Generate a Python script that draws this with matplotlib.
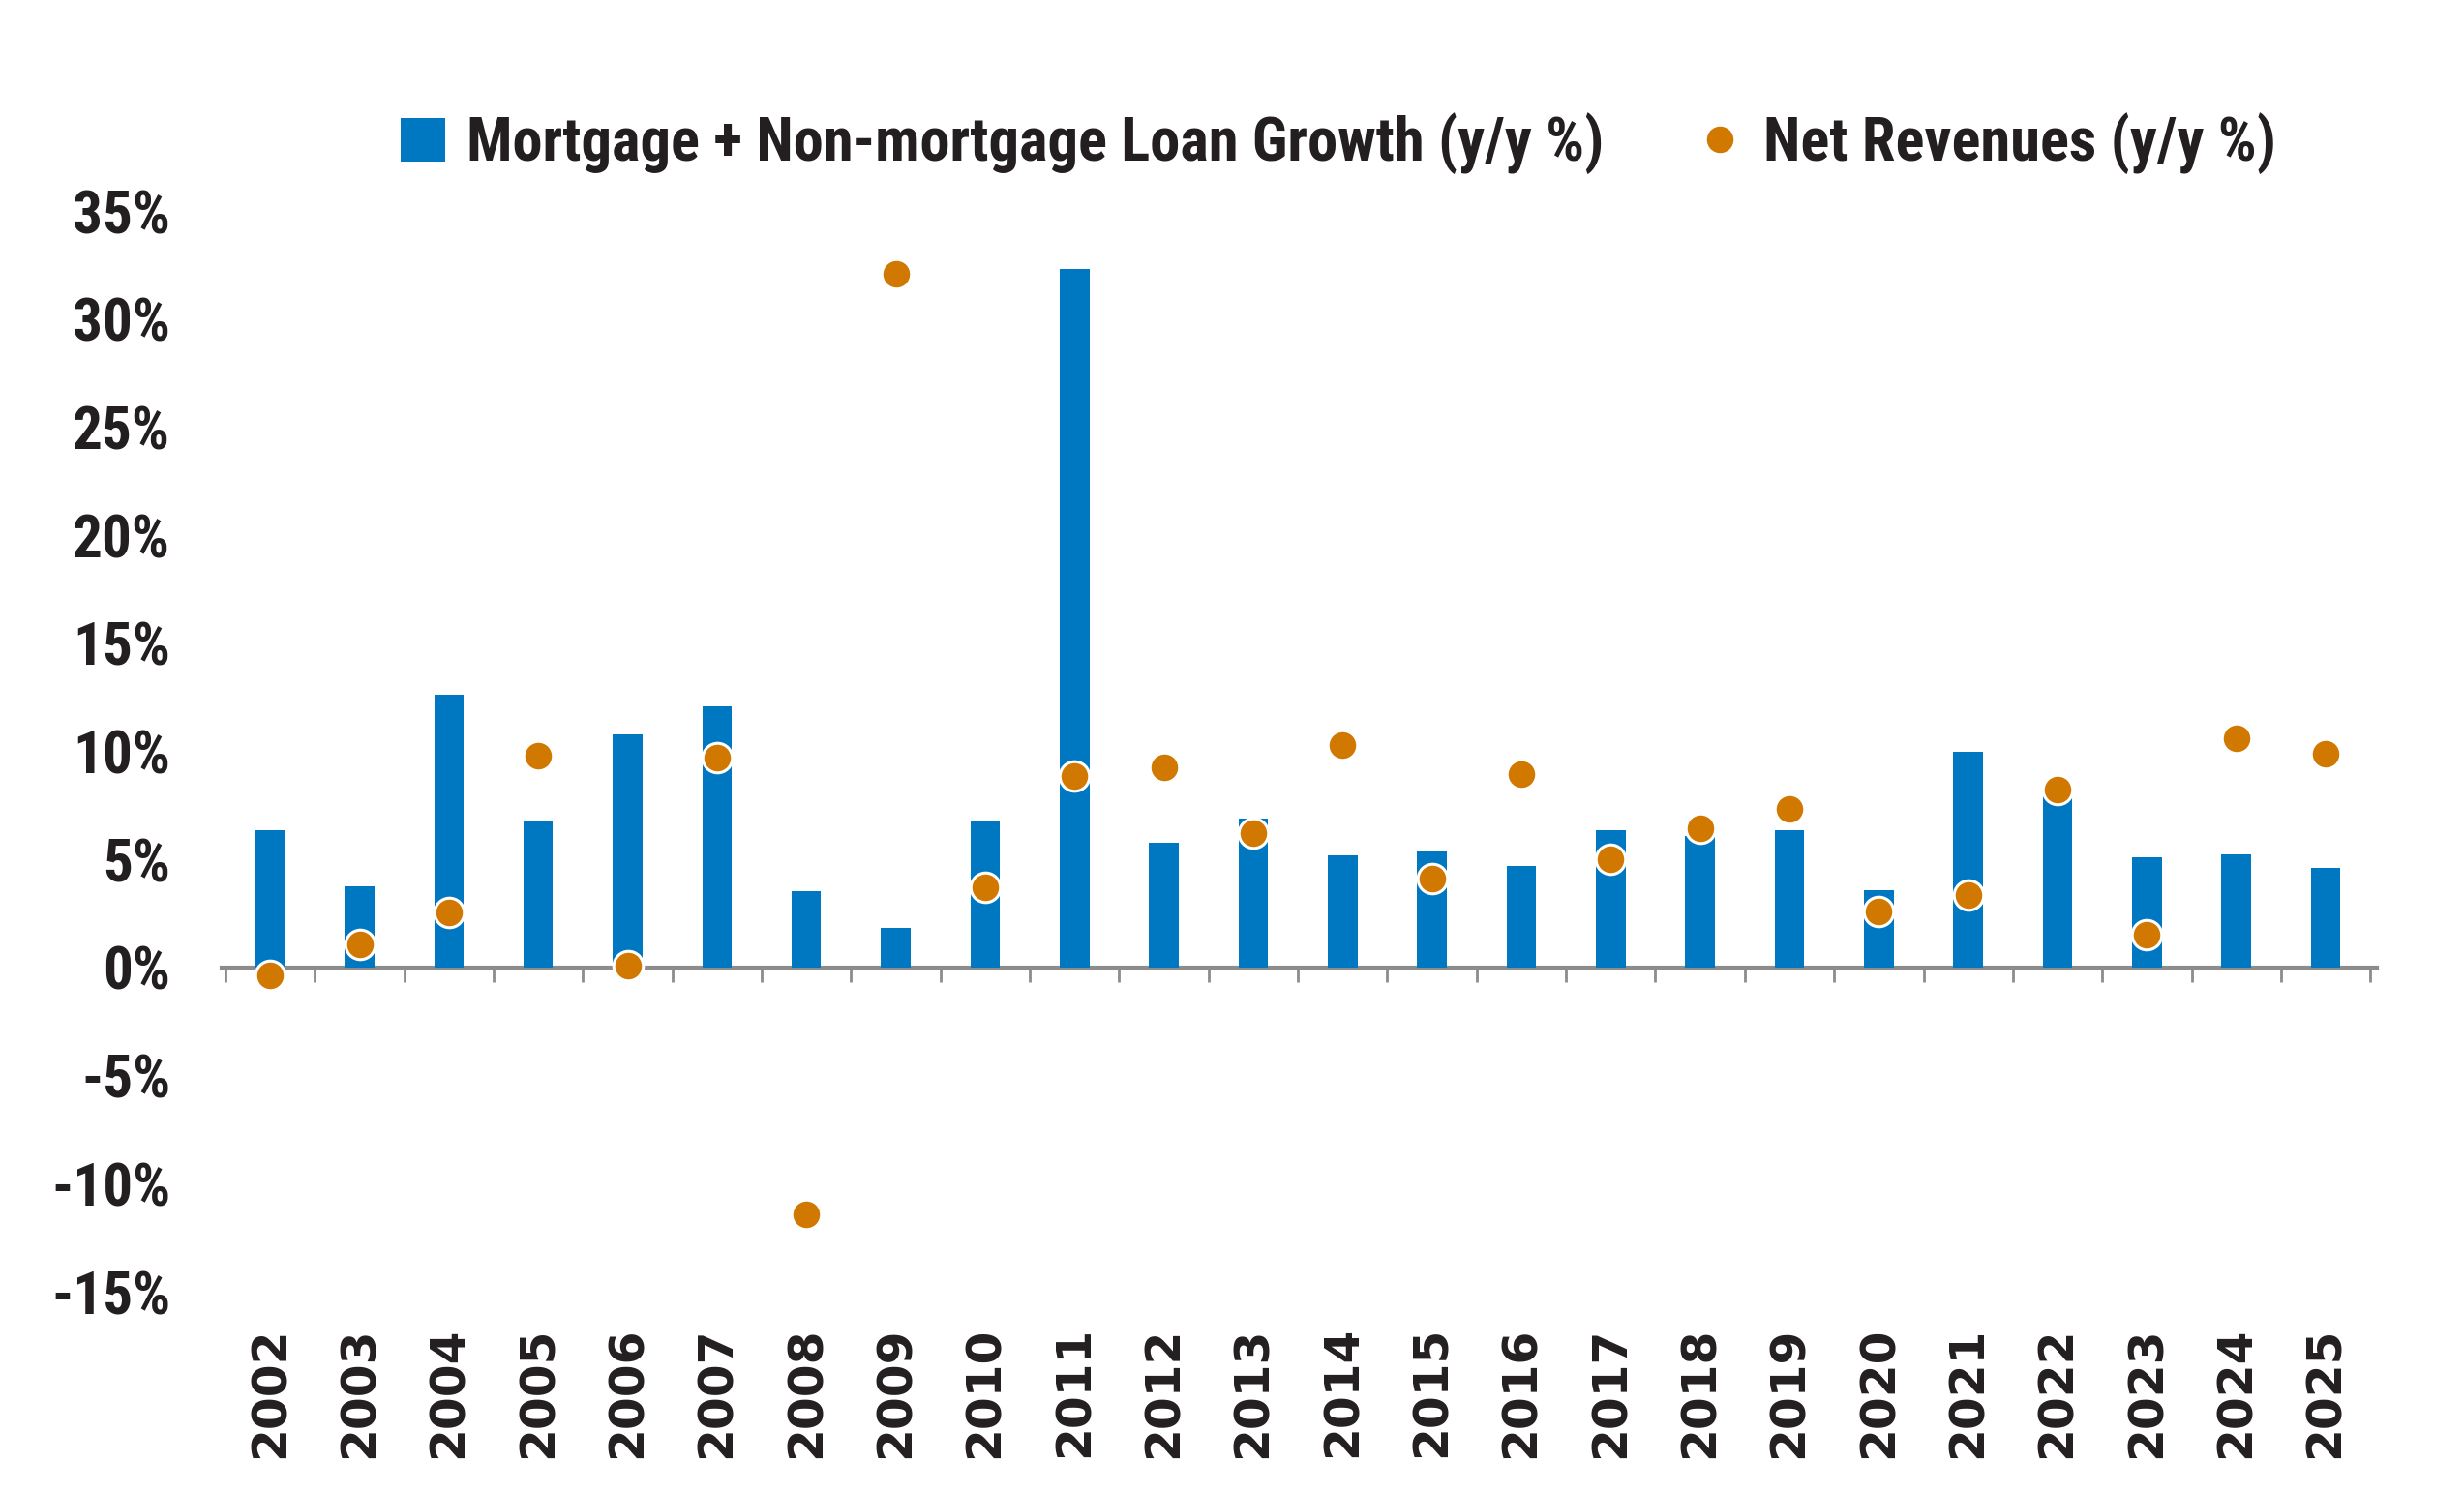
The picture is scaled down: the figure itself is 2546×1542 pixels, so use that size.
import matplotlib
matplotlib.use("Agg")
import matplotlib.pyplot as plt
from matplotlib import font_manager
from matplotlib.lines import Line2D
from matplotlib.patches import Patch

years = ["2002", "2003", "2004", "2005", "2006", "2007", "2008", "2009", "2010", "2011",
         "2012", "2013", "2014", "2015", "2016", "2017", "2018", "2019", "2020", "2021",
         "2022", "2023", "2024", "2025"]
loan_growth = [6.35, 3.75, 12.6, 6.75, 10.8, 12.1, 3.55, 1.85, 6.75, 32.3,
               5.75, 6.9, 5.2, 5.35, 4.7, 6.35, 6.1, 6.35, 3.6, 10.0,
               7.9, 5.1, 5.25, 4.6]
net_revenues = [-0.35, 1.05, 2.55, 9.8, 0.1, 9.7, -11.4, 32.1, 3.7, 8.85,
                9.25, 6.2, 10.3, 4.1, 8.95, 5.0, 6.45, 7.35, 2.6, 3.35,
                8.25, 1.5, 10.6, 9.9]
y_ticks = [-15, -10, -5, 0, 5, 10, 15, 20, 25, 30, 35]
loan_label = "Mortgage + Non-mortgage Loan Growth (y/y %)"
rev_label = "Net Revenues (y/y %)"

BLUE = "#0078C1"
ORANGE = "#D17800"
TXT = "#231F20"
GRAY = "#8C8C8C"

available = {f.name for f in font_manager.fontManager.ttflist}
narrow = None
for cand in ["Liberation Sans Narrow", "DejaVu Sans Condensed", "Roboto Condensed",
             "Open Sans Condensed", "Noto Sans Condensed"]:
    if cand in available:
        narrow = cand
        break
if narrow is None:
    narrow = "Roboto"
    lab_size = 32
    leg_size = 32
else:
    lab_size = 44
    leg_size = 45

fig = plt.figure(figsize=(25.46, 15.42), dpi=100)
ax = fig.add_axes([0.0899, 0.1342, 0.8748, 0.7244])

x = list(range(len(years)))
ax.bar(x, loan_growth, width=0.33, color=BLUE, zorder=2)
ax.plot(x, net_revenues, linestyle="none", marker="o", markersize=22,
        markerfacecolor=ORANGE, markeredgecolor="white", markeredgewidth=2.2, zorder=3)

ax.set_xlim(-0.545, 23.575)
ax.set_ylim(-15, 35)

for s in ax.spines.values():
    s.set_visible(False)

# y axis labels
ax.set_yticks(y_ticks)
ax.set_yticklabels([f"{v}%" for v in y_ticks], fontsize=lab_size, fontweight="bold",
                   color=TXT, fontfamily=narrow)
ax.tick_params(axis="y", length=0, pad=38)

# x labels at bottom
ax.set_xticks(x)
ax.set_xticklabels(years, rotation=90, fontsize=35, fontweight="bold", color=TXT,
                   fontfamily="DejaVu Sans")
ax.tick_params(axis="x", length=0, pad=26)

# zero line with tick marks between categories
sec = ax.secondary_xaxis(15 / 50)
sec.spines["bottom"].set_color(GRAY)
sec.spines["bottom"].set_linewidth(3)
sec.set_xticks([i - 0.5 for i in range(len(years) + 1)])
sec.tick_params(axis="x", direction="out", length=11, width=2, color=GRAY, labelbottom=False)
sec.set_zorder(1)

handles = [Patch(facecolor=BLUE, edgecolor="none"),
           Line2D([], [], linestyle="none", marker="o", markersize=22,
                  markerfacecolor=ORANGE, markeredgecolor="white", markeredgewidth=2.2)]
leg = fig.legend(handles, [loan_label, rev_label], ncol=2, loc="center",
                 bbox_to_anchor=(0.5432, 0.904), frameon=False,
                 prop={"family": narrow, "weight": "bold", "size": leg_size},
                 handlelength=0.73, handleheight=0.73, handletextpad=0.35, columnspacing=1.55)
for t in leg.get_texts():
    t.set_color(TXT)

fig.savefig("out.png", dpi=100)
